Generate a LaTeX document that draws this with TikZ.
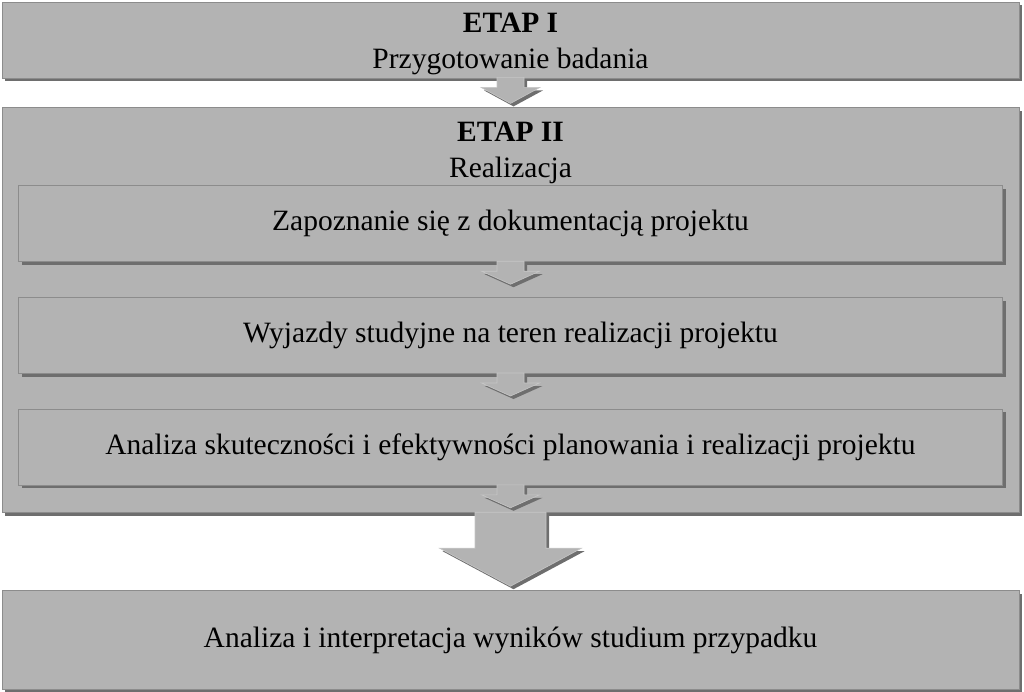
\documentclass[tikz,border=0pt]{standalone}
\usepackage{fontspec}
\setmainfont{Liberation Serif}
\usetikzlibrary{positioning,shadows}

\definecolor{boxfill}{HTML}{B3B3B3}
\definecolor{boxline}{HTML}{8C8C8C}
\definecolor{shadowgray}{HTML}{6E6E6E}
\definecolor{arrowline}{HTML}{C6C6C6}

\newcommand{\flowarrow}[5]{%
	\filldraw[blockarrow] (#1) ++(-#2,1) -- ++(0,-#4-1) -- ++(#2-#3,0) -- ++(#3,-#5)
		-- ++(#3,#5) -- ++(#2-#3,0) -- ++(0,#4+1) -- cycle;
}

\begin{document}
\begin{tikzpicture}[x=1pt,y=1pt,node distance=35pt,
	font=\fontsize{29.5}{36}\selectfont,
	stagebox/.style={draw=boxline,fill=boxfill,line width=0.8pt,
		minimum width=1017pt,minimum height=76pt,inner sep=0pt,align=center,
		drop shadow={shadow xshift=3pt,shadow yshift=-3pt,fill=shadowgray,opacity=1}},
	stepbox/.style={stagebox,minimum width=984pt},
	blockarrow/.style={fill=boxfill,draw=arrowline,line width=0.6pt,
		drop shadow={shadow xshift=3pt,shadow yshift=-3pt,fill=shadowgray,opacity=1}}]
	\useasboundingbox (0,0) rectangle (1024,-691);
	\node[stagebox] (etap_1) at (510.5,-40) {\rule{0pt}{27pt}\textbf{ETAP I}\\Przygotowanie badania};
	\node[stagebox,minimum height=405pt,below=29pt of etap_1] (etap_2) {};
	\node[inner sep=0pt,align=center,below=14pt of etap_2.north] (etap_2_title) {\textbf{ETAP II}\\Realizacja};
	\node[stepbox,below=78pt of etap_2.north] (krok_1) {Zapoznanie się z dokumentacją projektu};
	\node[stepbox,below=of krok_1] (krok_2) {Wyjazdy studyjne na teren realizacji projektu};
	\node[stepbox,below=of krok_2] (krok_3) {Analiza skuteczności i efektywności planowania i realizacji projektu};
	\node[stagebox,minimum height=99pt,below=77pt of etap_2] (wynik) {Analiza i interpretacja wyników studium przypadku};
	\flowarrow{etap_1.south}{13.5}{29.5}{9}{16}
	\flowarrow{krok_1.south}{13.5}{29}{9}{13}
	\flowarrow{krok_2.south}{13.5}{29}{9}{13}
	\flowarrow{krok_3.south}{13.5}{29}{9}{13}
	\flowarrow{etap_2.south}{35.5}{71}{35}{38}
\end{tikzpicture}
\end{document}
